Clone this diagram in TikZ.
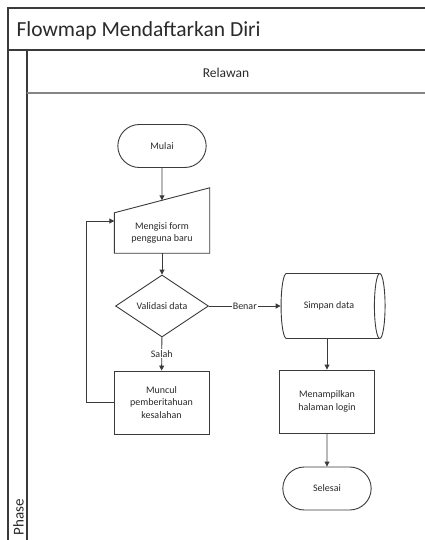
\documentclass[tikz,border=0pt]{standalone}
\usepackage{fontspec}
\setmainfont{Carlito}
\usetikzlibrary{shapes.geometric, shapes.misc, arrows.meta, calc}
\definecolor{ln}{HTML}{3a3a3a}
\definecolor{tx}{HTML}{2a2a2a}
\definecolor{hd}{HTML}{858585}
\tikzset{
    arrow/.style={-{Triangle[length=5pt,width=5pt]},ln,line width=0.9pt},
    lanebar/.style={ln,line width=1.6pt},
    terminal/.style={draw=ln,line width=0.9pt,rounded rectangle,minimum width=95pt,minimum height=43pt,
        font=\fontsize{10}{12}\selectfont,text=tx},
    process/.style={draw=ln,line width=0.9pt,minimum width=95pt,minimum height=63pt,align=center,
        font=\fontsize{10}{12.5}\selectfont,text=tx},
    manual/.style={minimum width=95pt,minimum height=40pt,align=center,
        font=\fontsize{10}{12.5}\selectfont,text=tx},
    decision/.style={draw=ln,line width=0.9pt,diamond,minimum width=93pt,minimum height=62pt,inner sep=0pt,
        font=\fontsize{10}{12}\selectfont,text=tx},
    storage/.style={draw=ln,line width=0.9pt,cylinder,shape aspect=0.7,minimum width=65pt,minimum height=104pt,
        font=\fontsize{10}{12}\selectfont,text=tx},
    tag/.style={fill=white,inner sep=1pt,font=\fontsize{10}{12}\selectfont,text=tx}
}

\begin{document}
\begin{tikzpicture}[x=1pt,y=-1pt]
			\useasboundingbox (0,0) rectangle (425,540);
			\fill[white] (0,0) rectangle (425,540);
			\draw[lanebar] (8,540) -- (8,8) -- (430,8);
			\draw[lanebar] (8,50) -- (430,50);
			\draw[lanebar] (27,50) -- (27,545);
			\draw[hd,line width=1.8pt] (27,93) -- (430,93);
			\node[anchor=base west,text=tx,font=\fontsize{21.5}{24}\selectfont] (title) at (13,37) {Flowmap Mendaftarkan Diri};
			\node[anchor=base,text=tx,font=\fontsize{13.5}{16}\selectfont] (lane) at (226,78) {Relawan};
			\node[anchor=base west,rotate=90,text=tx,font=\fontsize{15}{18}\selectfont] (phase) at (23.5,539) {Phase};
			\node[terminal] (mulai) at (162,146) {Mulai};
			\node[manual] (form) at (162,233) {Mengisi form\\pengguna baru};
			\draw[ln,line width=0.9pt] (form.north west) -- (form.south west) -- (form.south east) -- ([yshift=25pt]form.north east) -- cycle;
			\coordinate (formtop) at ([yshift=12.5pt]form.north);
			\node[decision] (valid) at (162,306) {Validasi data};
			\node[storage] (simpan) at (329,306) {Simpan data};
			\node[process] (muncul) at (161.5,402.5) {Muncul\\pemberitahuan\\kesalahan};
			\node[process] (tampil) at (327,401.5) {Menampilkan\\halaman login};
			\node[terminal] (selesai) at (327,488.5) {Selesai};
			\draw[arrow] (mulai) -- (formtop);
			\draw[arrow] (form) -- (valid);
			\draw[arrow] (valid) -- node[tag] {Benar} (simpan);
			\draw[arrow] (valid) -- node[tag] {Salah} (muncul);
			\draw[arrow] (muncul.west) -- ++(-27,0) |- ([yshift=12pt]form.west);
			\draw[arrow] (simpan.south -| tampil) -- (tampil);
			\draw[arrow] (tampil) -- (selesai);
		\end{tikzpicture}
\end{document}
